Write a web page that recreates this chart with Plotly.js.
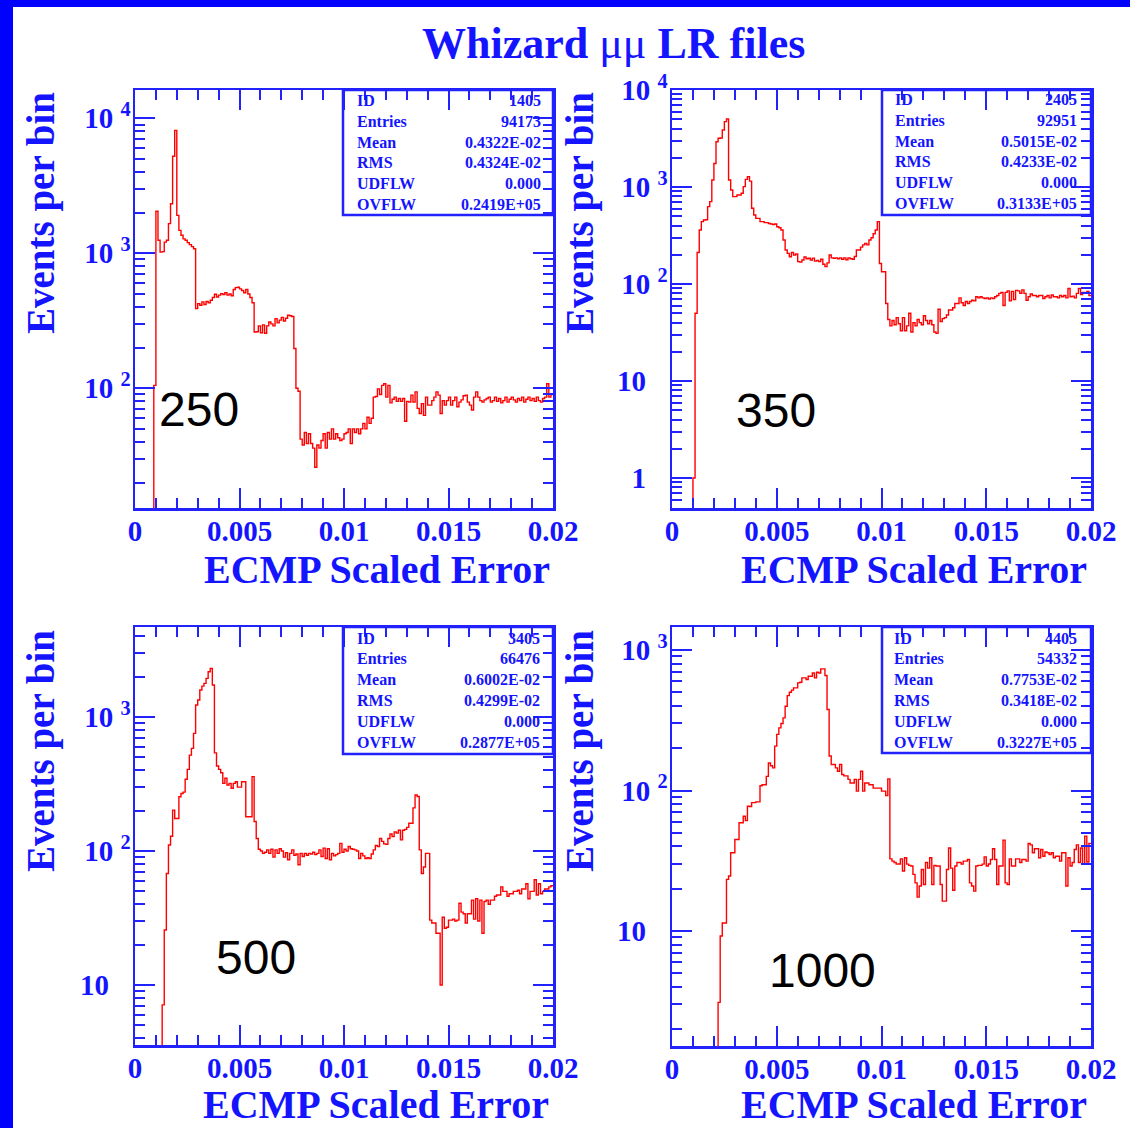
<!DOCTYPE html>
<html><head><meta charset="utf-8">
<script src="https://cdn.plot.ly/plotly-3.0.1.min.js"></script>
<style>html,body{margin:0;padding:0;background:#fff;overflow:hidden}#chart{width:1130px;height:1128px}</style>
</head><body><div id="chart"></div>
<script>
// ---------------- data ----------------
const binWidth = 0.0001;   // ECMP scaled error bin width (200 bins, 0..0.02)
const nBins = 200;
const xTickVals = [0, 0.005, 0.01, 0.015, 0.02];
const xTickText = ['0', '0.005', '0.01', '0.015', '0.02'];

const energyLabels = ['250', '350', '500', '1000'];

const counts250 = [0,0,0,0,0,0,0,0,0,105,
2050,1250,1020,1030,1210,1250,1660,2330,5240,8150,
1910,1480,1360,1280,1250,1200,1160,1120,1080,389,
424,412,437,418,440,430,449,470,497,475,
490,503,495,510,490,500,485,540,557,560,
545,530,510,540,500,470,430,261,262,290,
258,295,256,290,310,300,290,328,305,320,
335,315,330,348,345,340,197,100,95,42,
38,47,39,46,39,36,26,38,36,41,
46,36,47,42,50,42,46,43,41,42,
46,47,50,39,50,47,50,46,50,55,
50,61,55,60,86,87,99,90,105,108,
86,105,78,83,86,80,84,80,84,57,
80,79,89,79,94,71,65,77,63,86,
75,75,81,86,94,89,65,81,75,81,
86,75,81,86,73,79,82,88,89,79,
75,69,86,94,86,81,79,82,84,86,
79,81,86,80,84,78,81,86,79,83,
86,82,79,84,81,86,79,83,86,81,
84,80,86,81,79,84,86,108,86,90];

const counts350 = [0,0,0,0,0,0,0,0,0,0,
1,50,211,360,440,457,460,627,706,1180,
1750,2930,3180,3200,3870,4720,5020,1180,931,795,
795,828,828,861,1008,1200,1280,1150,603,514,
475,475,440,440,429,429,420,416,410,416,
390,380,360,284,224,207,191,211,199,204,
170,168,177,190,182,184,177,185,172,175,
170,180,160,151,165,199,186,184,186,182,
186,180,186,178,186,182,180,192,224,224,
240,253,262,253,284,300,330,360,440,163,
134,134,63,43,37,42,38,45,39,33,
45,33,37,50,32,40,37,43,40,38,
47,42,39,42,38,32,31,55,41,44,
45,48,54,54,57,63,63,72,64,60,
66,63,66,68,67,74,72,74,72,71,
72,70,72,71,74,76,80,82,60,82,
85,67,84,69,86,85,80,87,80,68,
74,79,76,76,74,76,76,71,74,76,
72,77,74,74,72,76,74,76,72,90,
74,75,72,80,90,78,82,80,84,76];

const counts500 = [0,0,0,0,0,0,0,0,0,0,
0,0,0,7.1,25.7,68,111,129,202,175,
175,254,269,275,343,407,520,584,755,1229,
1339,1590,1700,1784,1944,2178,2307,1733,540,431,
407,384,320,349,311,320,294,320,329,300,
300,329,329,180,180,180,359,166,124,103,
100,96,98,102,96,103,90,102,96,104,
100,90,97,86,96,102,93,95,79,96,
91,96,93,96,95,98,94,96,102,91,
105,88,104,86,96,92,94,96,114,98,
103,100,108,104,103,102,100,88,96,92,
88,89,88,95,102,110,108,124,118,113,
112,124,134,128,139,136,143,121,143,145,
150,161,161,210,262,255,102,68,76,96,
96,30.5,29,29,24.3,24.3,10,32,26.5,27,
30.5,30.5,31,30,30.5,40.7,35,34,29,34,
34,43,31,44,30,43,24.3,42,43,40,
43,43,46,47,47,54,50,50,46,48,
48,50,50,51,48,52,52,57,44,50,
50,61,47,57,48,50,52,52,54,55];

const counts1000 = [0,0,0,0,0,0,0,0,0,0,
0,0,0,0,0,0,0,0,0,0,
0,0,3.1,9.2,11.4,11.4,23.3,24.6,36,36,
44.8,44.8,58.9,59,65.6,61,77.3,77,82,82,
83,83,108,110,110,126,157,150,145,207,
251,279,300,329,398,474,500,518,538,538,
584,590,634,634,617,651,651,687,634,695,
687,734,734,658,377,176,153,153,145,137,
153,130,127,127,120,113,113,120,99,120,
137,99,113,113,110,110,104,104,104,104,
99,99,92,121,32.6,31.4,30.7,29.9,30,32.6,
26.7,33.2,29.9,29.3,29,25.3,22,17.4,20.9,27.4,
21.4,30.7,28,33.2,21.4,29.3,29,29,21.4,16.3,
16.3,27.4,39,28,19.5,29,30.7,30.7,29.9,31.4,
31.4,32.3,22,20.9,19.2,29,29.3,29.3,29.9,33.7,
29,30,32.3,38.5,32.3,21.4,29,29,44.3,22,
21.4,32.6,29,29,32.6,32.6,30.7,32.3,32.3,31.4,
41.9,41,36,38.5,38.5,33.2,38,34,36.5,36,
35,36,33.2,34,34,31.4,36,36,20.9,33.2,
29,30.7,38,41,30.7,39,29.9,47.3,31,42];

const NB = '\u00A0';
const yTickVals250 = [100, 1000, 10000];
const yTickText250 = ['10' + NB + '<sup>2</sup>', '10' + NB + '<sup>3</sup>', '10' + NB + '<sup>4</sup>'];
const yTickVals350 = [1, 10, 100, 1000, 10000];
const yTickText350 = ['1' + NB + NB + NB, '10' + NB + NB + NB, '10' + NB + '<sup>2</sup>', '10' + NB + '<sup>3</sup>', '10' + NB + '<sup>4</sup>'];
const yTickVals500 = [10, 100, 1000];
const yTickText500 = ['10' + NB + NB + NB, '10' + NB + '<sup>2</sup>', '10' + NB + '<sup>3</sup>'];
const yTickVals1000 = [10, 100, 1000];
const yTickText1000 = ['10' + NB + NB + NB, '10' + NB + '<sup>2</sup>', '10' + NB + '<sup>3</sup>'];

const statLabels = ['ID', 'Entries', 'Mean', 'RMS', 'UDFLW', 'OVFLW'];
const stats250 = ['1405', '94173', '0.4322E-02', '0.4324E-02', '0.000', '0.2419E+05'];
const stats350 = ['2405', '92951', '0.5015E-02', '0.4233E-02', '0.000', '0.3133E+05'];
const stats500 = ['3405', '66476', '0.6002E-02', '0.4299E-02', '0.000', '0.2877E+05'];
const stats1000 = ['4405', '54332', '0.7753E-02', '0.3418E-02', '0.000', '0.3227E+05'];

const chartTitle = 'Whizard <span style="font-weight:normal">μμ</span> LR files';
const xTitle = 'ECMP Scaled Error';
const yTitle = 'Events per bin';

// ---------------- styling / geometry ----------------
const W = 1130, H = 1128;
const BLUE = '#1414ff';
const LINEBLUE = '#2222ff';
const SERIF = 'Liberation Serif, Times New Roman, serif';
const px = x => x / W;
const py = y => 1 - y / H;

const panels = [
  {counts: counts250, stats: stats250, label: energyLabels[0], tv: yTickVals250, tt: yTickText250,
   fx: [135, 553], fy: [90, 508], yr: [1.113, 4.21], lab: [199, 410],
   box: [343, 215], sL: 355, sR: 543, sT: 100.5, xt: [552, 569], yt: [41, 213]},
  {counts: counts350, stats: stats350, label: energyLabels[1], tv: yTickVals350, tt: yTickText350,
   fx: [672, 1091], fy: [90, 508], yr: [-0.309, 4.0], lab: [776, 411],
   box: [882, 215], sL: 893, sR: 1079, sT: 99.5, xt: [1089, 569], yt: [580, 213]},
  {counts: counts500, stats: stats500, label: energyLabels[2], tv: yTickVals500, tt: yTickText500,
   fx: [135, 553], fy: [627, 1045], yr: [0.552, 3.672], lab: [256, 957],
   box: [343, 754], sL: 355, sR: 542, sT: 638, xt: [551, 1104], yt: [41, 751]},
  {counts: counts1000, stats: stats1000, label: energyLabels[3], tv: yTickVals1000, tt: yTickText1000,
   fx: [672, 1091], fy: [627, 1046], yr: [0.181, 3.164], lab: [822, 970],
   box: [882, 753], sL: 892, sR: 1079, sT: 638, xt: [1089, 1104], yt: [580, 751]}
];

const edges = [];
for (let i = 0; i <= nBins; i++) edges.push(+(i * binWidth).toFixed(6));

const data = [];
const layout = {
  width: W, height: H, margin: {l: 0, r: 0, t: 0, b: 0},
  paper_bgcolor: '#fff', plot_bgcolor: 'rgba(0,0,0,0)', showlegend: false,
  annotations: [], shapes: []
};

const tickFont = {family: SERIF, size: 29, color: BLUE, weight: 'bold'};

panels.forEach((p, k) => {
  const n = k === 0 ? '' : String(k + 1);
  const ys = p.counts.map(v => v > 0 ? v : 1e-4);
  ys.push(ys[ys.length - 1]);
  data.push({
    type: 'scatter', mode: 'lines', x: edges, y: ys,
    xaxis: 'x' + n, yaxis: 'y' + n,
    line: {shape: 'hv', color: '#ff0000', width: 1.4},
    hoverinfo: 'skip'
  });
  layout['xaxis' + n] = {
    domain: [px(p.fx[0]), px(p.fx[1])], range: [0, 0.02], anchor: 'y' + n,
    showline: true, linecolor: LINEBLUE, linewidth: 2.5, mirror: 'allticks',
    showgrid: false, zeroline: false,
    tickmode: 'array', tickvals: xTickVals, ticktext: xTickText,
    ticks: 'inside', ticklen: 20, tickwidth: 2, tickcolor: LINEBLUE,
    minor: {dtick: 0.001, tick0: 0, ticks: 'inside', ticklen: 10, tickwidth: 2, tickcolor: LINEBLUE, showgrid: false},
    tickfont: tickFont, ticklabelstandoff: -4, fixedrange: true
  };
  layout['yaxis' + n] = {
    type: 'log', domain: [py(p.fy[1]), py(p.fy[0])], range: p.yr, anchor: 'x' + n,
    showline: true, linecolor: LINEBLUE, linewidth: 2.5, mirror: 'allticks',
    showgrid: false, zeroline: false,
    tickmode: 'array', tickvals: p.tv, ticktext: p.tt,
    ticks: 'inside', ticklen: 20, tickwidth: 2, tickcolor: LINEBLUE,
    minor: {dtick: 'D1', ticks: 'inside', ticklen: 10, tickwidth: 2, tickcolor: LINEBLUE, showgrid: false},
    tickfont: tickFont, ticklabelstandoff: -4, fixedrange: true
  };
  // stats box
  layout.shapes.push({type: 'rect', xref: 'paper', yref: 'paper',
    x0: px(p.box[0]), x1: px(p.fx[1]), y0: py(p.box[1]), y1: py(p.fy[0]),
    line: {color: LINEBLUE, width: 2.5}, fillcolor: 'rgba(0,0,0,0)', layer: 'above'});
  statLabels.forEach((s, j) => {
    const yy = py(p.sT + j * 20.8);
    layout.annotations.push({xref: 'paper', yref: 'paper', x: px(p.sL), y: yy,
      xanchor: 'left', yanchor: 'middle', showarrow: false, text: s,
      font: {family: SERIF, size: 16, color: BLUE, weight: 'bold'}});
    layout.annotations.push({xref: 'paper', yref: 'paper', x: px(p.sR), y: yy,
      xanchor: 'right', yanchor: 'middle', showarrow: false, text: p.stats[j],
      font: {family: SERIF, size: 16, color: BLUE, weight: 'bold'}});
  });
  // energy label
  layout.annotations.push({xref: 'paper', yref: 'paper', x: px(p.lab[0]), y: py(p.lab[1]),
    xanchor: 'center', yanchor: 'middle', showarrow: false, text: p.label,
    font: {family: 'Liberation Sans, Arial, sans-serif', size: 48, color: '#000'}});
  // axis titles
  layout.annotations.push({xref: 'paper', yref: 'paper', x: px(p.xt[0]), y: py(p.xt[1]),
    xanchor: 'right', yanchor: 'middle', showarrow: false, text: xTitle,
    font: {family: SERIF, size: 40, color: BLUE, weight: 'bold'}});
  layout.annotations.push({xref: 'paper', yref: 'paper', x: px(p.yt[0]), y: py(p.yt[1]),
    xanchor: 'center', yanchor: 'middle', showarrow: false, text: yTitle, textangle: -90,
    font: {family: SERIF, size: 39, color: BLUE, weight: 'bold'}});
});

layout.annotations.push({xref: 'paper', yref: 'paper', x: px(613), y: py(43),
  xanchor: 'center', yanchor: 'middle', showarrow: false, text: chartTitle,
  font: {family: SERIF, size: 44, color: BLUE, weight: 'bold'}});

// page border (left and top blue bars)
layout.shapes.push({type: 'rect', xref: 'paper', yref: 'paper', x0: 0, x1: px(13), y0: 0, y1: 1,
  line: {width: 0}, fillcolor: '#0000ff', layer: 'above'});
layout.shapes.push({type: 'rect', xref: 'paper', yref: 'paper', x0: 0, x1: 1, y0: py(7), y1: 1,
  line: {width: 0}, fillcolor: '#0000ff', layer: 'above'});

Plotly.newPlot('chart', data, layout, {staticPlot: true, displayModeBar: false});
</script>
</body></html>
